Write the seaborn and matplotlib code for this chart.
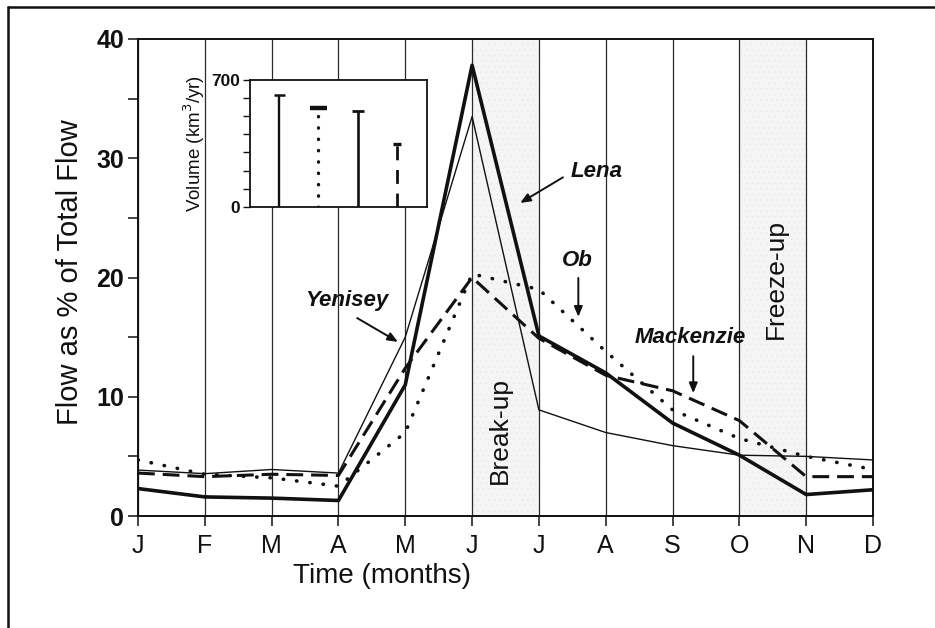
import numpy as np
import pandas as pd
import matplotlib
matplotlib.use("Agg")
import matplotlib.pyplot as plt
from matplotlib.lines import Line2D
import seaborn as sns

# ---------------- data ----------------
months = ["J", "F", "M", "A", "M", "J", "J", "A", "S", "O", "N", "D"]
lena = [2.3, 1.6, 1.5, 1.3, 11.0, 37.8, 15.1, 12.0, 7.8, 5.1, 1.8, 2.2]
yenisey = [3.85, 3.55, 3.9, 3.6, 15.0, 33.5, 8.9, 7.0, 5.9, 5.1, 5.0, 4.7]
ob = [4.7, 3.5, 3.2, 2.5, 7.0, 20.3, 19.0, 13.8, 8.9, 6.5, 5.0, 3.9]
mackenzie = [3.6, 3.3, 3.5, 3.4, 12.4, 20.0, 14.9, 11.8, 10.5, 8.0, 3.3, 3.3]

inset_rivers = ["Yenisey", "Ob", "Lena", "Mackenzie"]
inset_volume = [617, 544, 530, 346]

yticks = [0, 5, 10, 15, 20, 25, 30, 35, 40]
ytick_labels = ["0", "", "10", "", "20", "", "30", "", "40"]

# ---------------- style ----------------
sns.set_style("ticks")
plt.rcParams["font.family"] = ["Liberation Sans", "DejaVu Sans"]
plt.rcParams["hatch.linewidth"] = 0.4

W, H = 935, 628
fig = plt.figure(figsize=(W / 100, H / 100), dpi=100)
fig.patch.set_facecolor("white")

L, R, T, B = 138, 873, 39, 516
ax = fig.add_axes([L / W, 1 - B / H, (R - L) / W, (B - T) / H])

x = np.arange(len(months))
df = pd.DataFrame({"month": x, "Lena": lena, "Yenisey": yenisey,
                   "Ob": ob, "Mackenzie": mackenzie})

# shaded break-up / freeze-up bands (faint stipple)
for a, b in [(5, 6), (9, 10)]:
    ax.axvspan(a, b, facecolor="#f5f5f5", edgecolor="#e9e9e9",
               hatch="...", linewidth=0, zorder=0)

ax.set_xticks(x)
ax.grid(axis="x", color="#2a2a2a", linewidth=0.9, zorder=1)
ax.set_axisbelow(True)

ink = "#111111"
sns.lineplot(data=df, x="month", y="Yenisey", ax=ax, color=ink, linewidth=1.0,
             zorder=3)
sns.lineplot(data=df, x="month", y="Ob", ax=ax, color=ink, linewidth=2.6,
             linestyle=(0, (0.1, 3.6)), dash_capstyle="round", zorder=3)
sns.lineplot(data=df, x="month", y="Mackenzie", ax=ax, color=ink, linewidth=2.2,
             linestyle=(0, (5.5, 2.6)), zorder=3)
sns.lineplot(data=df, x="month", y="Lena", ax=ax, color=ink, linewidth=2.6,
             zorder=4)

ax.set_xlim(0, 11)
ax.set_ylim(0, 40)
ax.set_xticklabels(months, fontsize=18)
ax.set_yticks(yticks)
ax.set_yticklabels(ytick_labels, fontsize=18, fontweight="bold")
ax.tick_params(axis="both", direction="out", length=7, width=1.1,
               color=ink, labelcolor=ink)
ax.tick_params(axis="x", pad=6)
ax.tick_params(axis="y", pad=3)
for s in ax.spines.values():
    s.set_linewidth(1.4)
    s.set_color(ink)
    s.set_visible(True)

ax.set_xlabel("Time (months)", fontsize=20, color=ink)
ax.xaxis.set_label_coords((382 - L) / (R - L), (B - 563) / (B - T))
ax.set_ylabel("Flow as % of Total Flow", fontsize=21, color=ink)
ax.yaxis.set_label_coords((84 - L) / (R - L), (B - 272) / (B - T))

# annotations
lab_kw = dict(fontsize=16, fontstyle="italic", fontweight="bold",
              ha="center", va="center", color=ink, zorder=6)
arr = dict(arrowstyle="-|>,head_length=0.6,head_width=0.25", color=ink,
           lw=1.4, shrinkA=0, shrinkB=0)
ax.text(6.87, 28.9, "Lena", **lab_kw)
ax.annotate("", xy=(5.72, 26.25), xytext=(6.36, 28.4), arrowprops=arr)
ax.text(3.13, 18.1, "Yenisey", **lab_kw)
ax.annotate("", xy=(3.89, 14.6), xytext=(3.28, 16.6), arrowprops=arr)
ax.text(6.57, 21.4, "Ob", **lab_kw)
ax.annotate("", xy=(6.59, 16.7), xytext=(6.59, 19.96), arrowprops=arr)
ax.text(8.26, 15.0, "Mackenzie", **lab_kw)
ax.annotate("", xy=(8.31, 10.3), xytext=(8.31, 13.4), arrowprops=arr)

ax.text(5.42, 7.2, "Break-up", rotation=90, fontsize=19, ha="center",
        va="center", color=ink, zorder=6)
ax.text(9.54, 19.9, "Freeze-up", rotation=90, fontsize=19, ha="center",
        va="center", color=ink, zorder=6)

# ---------------- inset ----------------
iL, iR, iT, iB = 250, 427.3, 80, 206.7
ax2 = fig.add_axes([iL / W, 1 - iB / H, (iR - iL) / W, (iB - iT) / H])
ax2.set_facecolor("white")
ax2.set_zorder(10)
pos = np.arange(1, len(inset_rivers) + 1)
stem_styles = [dict(lw=1.7, ls="-"),
               dict(lw=2.4, ls=(0, (0.1, 3.3)), capstyle="round"),
               dict(lw=1.9, ls="-"),
               dict(lw=2.0, ls=(0, (5.0, 3.5)))]
cap_half = [0.14, 0.22, 0.15, 0.10]
cap_lw = [1.8, 3.2, 2.0, 2.4]
for p, v, st, ch, clw in zip(pos, inset_volume, stem_styles, cap_half, cap_lw):
    ln = ax2.vlines(p, 0, v, colors=ink, linewidth=st["lw"],
                    linestyles=[st["ls"]])
    if "capstyle" in st:
        ln.set_capstyle("round")
    ax2.hlines(v, p - ch, p + ch, colors=ink, linewidth=clw)
ax2.set_xlim(0.25, 4.78)
ax2.set_ylim(0, 700)
ax2.set_xticks([])
ax2.set_yticks(np.arange(0, 701, 100))
ax2.set_yticklabels(["0", "", "", "", "", "", "", "700"], fontsize=12.5,
                    fontweight="bold")
ax2.tick_params(axis="y", direction="out", length=5, width=1.0, pad=2,
                color=ink, labelcolor=ink)
for s in ax2.spines.values():
    s.set_linewidth(1.3)
    s.set_color(ink)
ax2.set_ylabel("Volume (km$^3$/yr)", fontsize=13.5, color=ink, labelpad=3)

# figure frame (left and top edges visible)
fig.add_artist(Line2D([8 / W, 8 / W], [0, 1 - 7 / H], transform=fig.transFigure,
                      color=ink, lw=1.8))
fig.add_artist(Line2D([8 / W, 1], [1 - 7 / H, 1 - 7 / H],
                      transform=fig.transFigure, color=ink, lw=1.8))

fig.savefig("out.png", dpi=100)
